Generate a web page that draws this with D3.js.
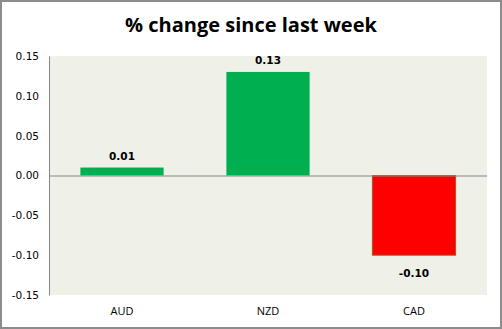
<!DOCTYPE html>
<html><head><meta charset="utf-8">
<script src="https://cdn.jsdelivr.net/npm/d3@7"></script>
<style>body{margin:0;background:#fff}</style>
</head><body>
<svg id="c" width="502" height="329"></svg>
<script>
const categories = ["AUD", "NZD", "CAD"];
const values = [0.01, 0.13, -0.10];
const valueLabels = ["0.01", "0.13", "-0.10"];
const yTicks = [-0.15, -0.10, -0.05, 0.00, 0.05, 0.10, 0.15];
const title = "% change since last week";

const svg = d3.select("#c");
const W = 502, H = 329;
svg.append("rect").attr("x",1).attr("y",1).attr("width",W-2).attr("height",H-2)
  .attr("fill","#fff").attr("stroke","#8c8c8c").attr("stroke-width",2);

const m = {left:49, right:487, top:56, bottom:295};
svg.append("rect").attr("x",m.left).attr("y",m.top).attr("width",m.right-m.left).attr("height",m.bottom-m.top)
  .attr("fill","#eff1e9");

const x = d3.scaleBand().domain(categories).range([m.left,m.right]).paddingInner(0.43).paddingOuter(0.215);
const y = d3.scaleLinear().domain([-0.15,0.15]).range([m.bottom,m.top]);

svg.append("text").attr("x",251).attr("y",32).attr("text-anchor","middle")
  .attr("font-family","Open Sans, sans-serif").attr("font-weight","bold").attr("font-size",20)
  .attr("fill","#000").text(title);

svg.selectAll("rect.bar").data(values).join("rect").attr("class","bar")
  .attr("x",(d,i)=>x(categories[i]))
  .attr("width",x.bandwidth())
  .attr("y",d=>y(Math.max(0,d)))
  .attr("height",d=>Math.abs(y(d)-y(0)))
  .attr("fill",d=>d>=0?"#00b050":"#ff0000")
  .attr("stroke",d=>d>=0?"none":"#9a5a2a").attr("stroke-width",1);

// y axis
const fmt = d => d3.format(".2f")(d).replace("\u2212","-");
const yAxis = d3.axisLeft(y).tickValues(yTicks).tickFormat(fmt).tickSize(0).tickPadding(10);
const ga = svg.append("g").attr("transform",`translate(${m.left},0)`).call(yAxis);
ga.select(".domain").attr("stroke","#868686");
ga.selectAll("text").attr("font-family","DejaVu Sans, Verdana, sans-serif").attr("font-size",10.5).attr("fill","#000");

// zero line
svg.append("line").attr("x1",m.left).attr("x2",m.right).attr("y1",y(0)+0.5).attr("y2",y(0)+0.5)
  .attr("stroke","#868686").attr("stroke-width",1.2);

// x labels
const xAxis = d3.axisBottom(x).tickSize(0).tickPadding(12);
const gx = svg.append("g").attr("transform",`translate(0,${m.bottom})`).call(xAxis);
gx.select(".domain").remove();
gx.selectAll("text").attr("font-family","Open Sans, sans-serif").attr("font-size",11).attr("fill","#000");

// data labels
svg.selectAll("text.lbl").data(values).join("text").attr("class","lbl")
  .attr("x",(d,i)=>x(categories[i])+x.bandwidth()/2)
  .attr("y",d=>d>=0?y(d)-8:y(d)+22)
  .attr("text-anchor","middle")
  .attr("font-family","DejaVu Sans, Verdana, sans-serif").attr("font-weight","bold").attr("font-size",10.5)
  .attr("fill","#000").text((d,i)=>valueLabels[i]);
</script>
</body></html>
